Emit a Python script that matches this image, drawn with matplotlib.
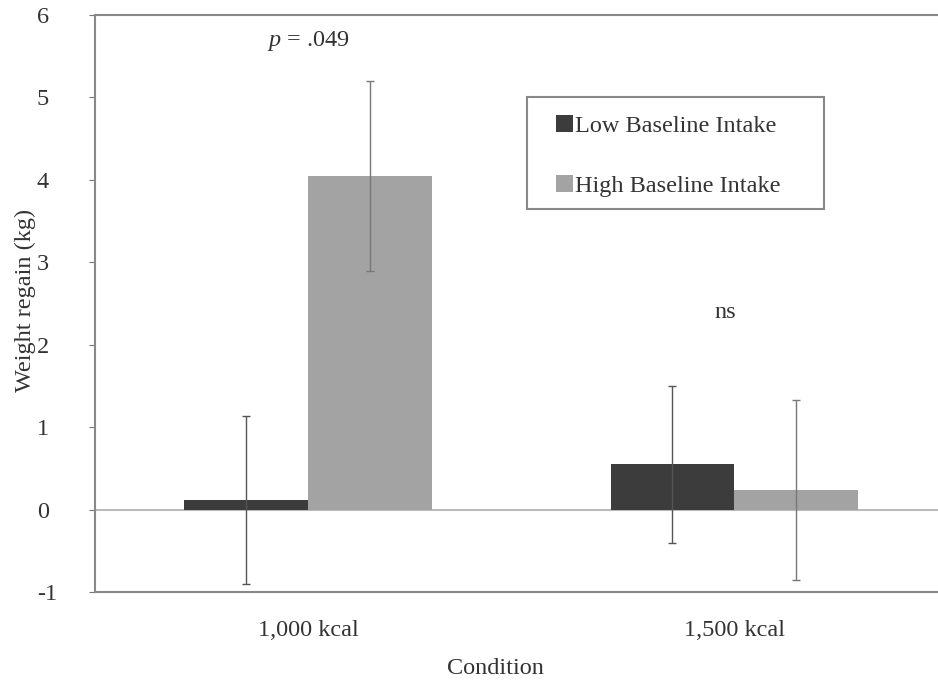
import matplotlib
matplotlib.use("Agg")
import matplotlib.pyplot as plt
import matplotlib.patches as mpatches
import numpy as np

categories = ["1,000 kcal", "1,500 kcal"]
series_names = ["Low Baseline Intake", "High Baseline Intake"]
low_values = [0.12, 0.55]
low_errors = [1.02, 0.95]
high_values = [4.05, 0.24]
high_errors = [1.15, 1.09]
colors = ["#3c3c3c", "#a3a3a3"]

plt.rcParams['font.family'] = ['Liberation Serif', 'DejaVu Serif']
plt.rcParams['axes.unicode_minus'] = False
plt.rcParams['mathtext.fontset'] = 'custom'
plt.rcParams['mathtext.it'] = 'Liberation Serif:italic'
plt.rcParams['mathtext.rm'] = 'Liberation Serif'

FS = 17.5
W, H = 938, 688
fig = plt.figure(figsize=(W/100, H/100), dpi=100)
ax = fig.add_axes([95/W, 1-592/H, (W-95)/W + 0.01, (592-15)/H])

x = np.arange(len(categories))
w = 0.29
ax.bar(x - w/2, low_values, w, color=colors[0], label=series_names[0], zorder=2)
ax.bar(x + w/2, high_values, w, color=colors[1], label=series_names[1], zorder=2)
ax.errorbar(x - w/2, low_values, yerr=low_errors, fmt='none', ecolor='#555555',
            elinewidth=1, capsize=3, capthick=1, zorder=3)
ax.errorbar(x + w/2, high_values, yerr=high_errors, fmt='none', ecolor='#777777',
            elinewidth=1, capsize=3, capthick=1, zorder=3)

ax.axhline(0, color='#bbbbbb', lw=1.5, zorder=1)
ax.set_xlim(-0.5, 1.5)
ax.set_ylim(-1, 6)
ax.set_yticks(range(-1, 7))
ax.set_xticks(x)
ax.set_xticklabels(categories, fontsize=FS)
ax.tick_params(axis='x', length=0, pad=20, colors='#333333')
ax.tick_params(axis='y', labelsize=FS, length=4, color='#777777', colors='#333333', pad=38)
for t in ax.get_yticklabels():
    t.set_horizontalalignment('left')
for s in ['left', 'bottom', 'top']:
    ax.spines[s].set_color('#888888')
    ax.spines[s].set_linewidth(1.5)
ax.spines['right'].set_visible(False)

fig.text(25/W, 1-300/H, "Weight regain (kg)", rotation=90, ha='center', va='center',
         fontsize=FS, color='#333333')
fig.text(495/W, 1-668/H, "Condition", ha='center', va='center',
         fontsize=FS, color='#333333')

ax.text(0, 5.68, r"$p$ = .049", ha='center', va='center', fontsize=FS, color='#333333')
ax.text(0.98, 2.39, "ns", ha='center', va='center', fontsize=FS, color='#333333')

box = mpatches.Rectangle((527/W, 1-209/H), (824-527)/W, (209-97)/H, transform=fig.transFigure,
                         facecolor='white', edgecolor='#888888', lw=1.5, zorder=4)
fig.add_artist(box)
leg = fig.legend(*ax.get_legend_handles_labels(), loc='center left',
                 bbox_to_anchor=(556/W, 1-156/H),
                 fontsize=FS, frameon=False,
                 handlelength=0.7, handleheight=0.7, handletextpad=0.1,
                 labelspacing=1.55, borderpad=0, borderaxespad=0)
leg.set_zorder(5)
for t in leg.get_texts():
    t.set_color('#333333')

fig.savefig("out.png", dpi=100)
